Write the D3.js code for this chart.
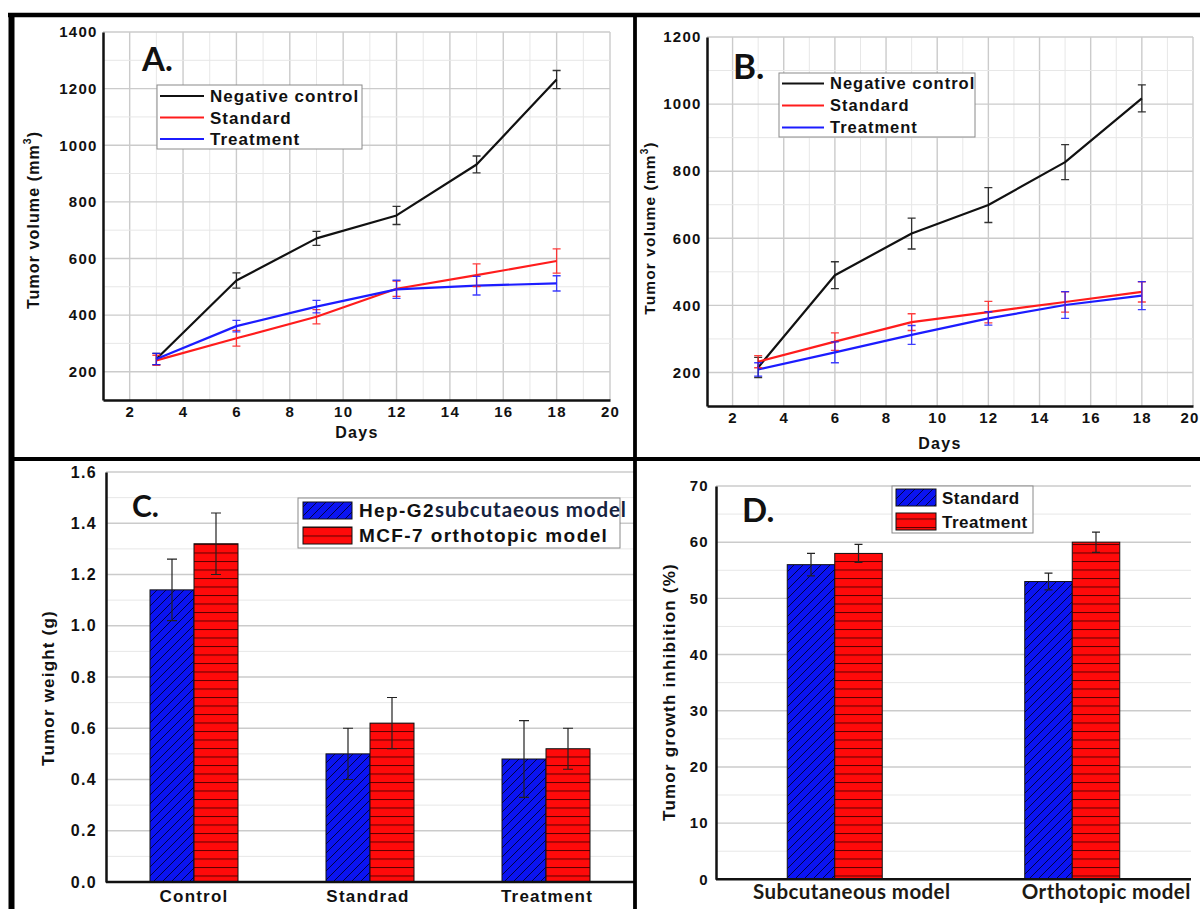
<!DOCTYPE html>
<html><head><meta charset="utf-8">
<script src="https://cdn.jsdelivr.net/npm/d3@7/dist/d3.min.js"></script>
<style>
body{margin:0;background:#fff}
svg{display:block}
</style>
</head><body>
<svg id="chart" width="1200" height="909" font-family="Liberation Sans, Arial, sans-serif" font-weight="bold" fill="#111"></svg>
<script>
// ---------------- DATA ----------------
const days = [3, 6, 9, 12, 15, 18];
const seriesNames = ["Negative control", "Standard", "Treatment"];

const aNegative     = [245, 522, 671, 752, 932, 1232];
const aNegativeErr  = [20, 27, 25, 32, 30, 32];
const aStandard     = [240, 318, 394, 493, 541, 591];
const aStandardErr  = [18, 28, 25, 27, 40, 43];
const aTreatment    = [245, 361, 430, 491, 504, 512];
const aTreatmentErr = [20, 20, 22, 32, 33, 27];

const bNegative     = [215, 490, 614, 699, 827, 1017];
const bNegativeErr  = [30, 40, 46, 52, 52, 40];
const bStandard     = [232, 292, 350, 380, 410, 440];
const bStandardErr  = [18, 26, 25, 32, 30, 30];
const bTreatment    = [209, 260, 312, 361, 401, 429];
const bTreatmentErr = [20, 31, 28, 20, 40, 42];

const lineXTicks = [2, 4, 6, 8, 10, 12, 14, 16, 18, 20];
const aYTicks = [200, 400, 600, 800, 1000, 1200, 1400];
const bYTicks = [200, 400, 600, 800, 1000, 1200];

const cCategories = ["Control", "Standrad", "Treatment"];
const cLegend = ["Hep-G2", "subcutaeous model", "MCF-7 orthotopic model"];
const cHepG2     = [1.14, 0.50, 0.48];
const cHepG2Err  = [0.12, 0.10, 0.15];
const cMCF7      = [1.32, 0.62, 0.52];
const cMCF7Err   = [0.12, 0.10, 0.08];
const cYTicks = [0, 0.2, 0.4, 0.6, 0.8, 1.0, 1.2, 1.4, 1.6];

const dCategories = ["Subcutaneous model", "Orthotopic model"];
const dLegend = ["Standard", "Treatment"];
const dStandard     = [56, 53];
const dStandardErr  = [2, 1.5];
const dTreatment    = [58, 60];
const dTreatmentErr = [1.6, 1.8];
const dYTicks = [0, 10, 20, 30, 40, 50, 60, 70];

// ---------------- STYLE ----------------
const LINE_COLORS = ["#111111", "#ff1c1c", "#1c1cff"];
const BLUE = "#0b14f2", RED = "#ff0a0a";
const GRID_MAJOR = "#cbcbcb", GRID_MINOR = "#e7e7e7";

const svg = d3.select("#chart");
svg.append("rect").attr("width", 1200).attr("height", 909).attr("fill", "#fff");

const defs = svg.append("defs");
const pb = defs.append("pattern").attr("id", "hatchBlue").attr("patternUnits", "userSpaceOnUse")
  .attr("width", 9).attr("height", 9);
pb.append("rect").attr("width", 9).attr("height", 9).attr("fill", BLUE);
pb.append("path").attr("d", "M-1,1 L1,-1 M0,9 L9,0 M8,10 L10,8")
  .attr("stroke", "#000030").attr("stroke-width", 0.9);
const pr = defs.append("pattern").attr("id", "hatchRed").attr("patternUnits", "userSpaceOnUse")
  .attr("width", 10).attr("height", 8.5);
pr.append("rect").attr("width", 10).attr("height", 8.5).attr("fill", RED);
pr.append("line").attr("x1", 0).attr("x2", 10).attr("y1", 0.5).attr("y2", 0.5)
  .attr("stroke", "#5a0000").attr("stroke-width", 1);

function styleAxis(g, fs, ls) {
  g.attr("font-family", null).attr("font-size", null);
  g.select(".domain").attr("stroke", "#111").attr("stroke-width", 2.5);
  g.selectAll(".tick line").remove();
  g.selectAll(".tick text").attr("font-size", fs).attr("letter-spacing", ls)
    .attr("fill", "#111").attr("font-family", "Liberation Sans, Arial, sans-serif").attr("font-weight", "bold");
}

// ---------------- LINE PANELS ----------------
function linePanel(cfg, vals, errs, yTicks) {
  const x = d3.scaleLinear().domain([1, 20]).range([cfg.x0, cfg.x1]);
  const y = d3.scaleLinear().domain([100, cfg.yMax]).range([cfg.y0, cfg.y1]);
  const g = svg.append("g");
  d3.range(2, 21).forEach(v => {
    g.append("line").attr("x1", x(v)).attr("x2", x(v)).attr("y1", y(100)).attr("y2", y(cfg.yMax))
      .attr("stroke", v % 2 === 0 ? GRID_MAJOR : GRID_MINOR).attr("stroke-width", v % 2 === 0 ? 1.4 : 1);
  });
  d3.range(200, cfg.yMax + 1, 100).forEach(v => {
    g.append("line").attr("x1", x(1)).attr("x2", x(20)).attr("y1", y(v)).attr("y2", y(v))
      .attr("stroke", v % 200 === 0 ? GRID_MAJOR : GRID_MINOR).attr("stroke-width", v % 200 === 0 ? 1.4 : 1);
  });
  const ya = g.append("g").attr("transform", `translate(${cfg.x0},0)`)
    .call(d3.axisLeft(y).tickValues(yTicks).tickSize(0).tickSizeOuter(0).tickPadding(5.5).tickFormat(d3.format("d")));
  styleAxis(ya, 15, 1.2);
  const xa = g.append("g").attr("transform", `translate(0,${cfg.y0})`)
    .call(d3.axisBottom(x).tickValues(lineXTicks).tickSize(0).tickSizeOuter(0).tickPadding(6.5).tickFormat(d3.format("d")));
  styleAxis(xa, 15, 1.2);
  // keep the last tick label inside the page when the axis ends at the page edge
  xa.selectAll(".tick text").filter(d => x(d) + 12 > 1200).attr("text-anchor", "end").attr("x", 1199 - x(20));
  const line = d3.line().x((d, i) => x(days[i])).y(d => y(d));
  vals.forEach((s, k) => {
    g.append("path").attr("d", line(s)).attr("fill", "none")
      .attr("stroke", LINE_COLORS[k]).attr("stroke-width", 2.2).attr("stroke-linejoin", "round");
  });
  vals.forEach((s, k) => {
    s.forEach((v, i) => {
      const cx = x(days[i]), e = errs[k][i];
      const p = `M${cx},${y(v - e)}V${y(v + e)}M${cx - 4},${y(v - e)}H${cx + 4}M${cx - 4},${y(v + e)}H${cx + 4}`;
      g.append("path").attr("d", p).attr("stroke", LINE_COLORS[k]).attr("stroke-width", 1.3)
        .attr("fill", "none").attr("opacity", 0.85);
    });
  });
  const L = cfg.legend;
  g.append("rect").attr("x", L.x).attr("y", L.y).attr("width", L.w).attr("height", L.h)
    .attr("fill", "#fff").attr("stroke", "#8a8a8a").attr("stroke-width", 1);
  seriesNames.forEach((n, k) => {
    const ry = L.rows[k];
    g.append("line").attr("x1", L.lx0).attr("x2", L.lx1).attr("y1", ry).attr("y2", ry)
      .attr("stroke", LINE_COLORS[k]).attr("stroke-width", 2.2);
    g.append("text").attr("x", L.tx).attr("y", ry).attr("dy", "0.36em")
      .attr("font-size", L.fs).attr("letter-spacing", 1).text(n);
  });
  g.append("text").attr("x", cfg.lab.x).attr("y", cfg.lab.y).attr("font-family", "Lato, sans-serif")
    .attr("font-weight", "bold").attr("font-size", cfg.lab.fs).text(cfg.lab.t);
  g.append("text").attr("x", cfg.days.x).attr("y", cfg.days.y).attr("text-anchor", "middle")
    .attr("font-size", 16).attr("letter-spacing", 1.3).text("Days");
  const yt = g.append("text").attr("transform", `translate(${cfg.yt.x},${cfg.yt.y}) rotate(-90)`)
    .attr("text-anchor", "middle").attr("dy", "0.35em").attr("font-size", cfg.yt.fs).attr("letter-spacing", 1.1);
  yt.append("tspan").text("Tumor volume (mm");
  yt.append("tspan").attr("font-size", cfg.yt.fs * 0.65).attr("dy", "-0.7em").text("3");
  yt.append("tspan").attr("dy", "0.45em").text(")");
}

linePanel({
  x0: 103, x1: 610, y0: 400, y1: 32, yMax: 1400,
  legend: {x: 157, y: 85, w: 205, h: 64, rows: [96, 117.5, 139], lx0: 160, lx1: 204, tx: 210, fs: 17},
  lab: {x: 142, y: 71, fs: 33, t: "A."},
  days: {x: 357, y: 438},
  yt: {x: 33, y: 220, fs: 16}
}, [aNegative, aStandard, aTreatment], [aNegativeErr, aStandardErr, aTreatmentErr], aYTicks);

linePanel({
  x0: 707, x1: 1193, y0: 406, y1: 37, yMax: 1200,
  legend: {x: 779, y: 73, w: 196, h: 64, rows: [83.5, 105.5, 127.5], lx0: 782, lx1: 824, tx: 830, fs: 16.5},
  lab: {x: 733, y: 79, fs: 35, t: "B."},
  days: {x: 940, y: 449},
  yt: {x: 650, y: 228, fs: 15.5}
}, [bNegative, bStandard, bTreatment], [bNegativeErr, bStandardErr, bTreatmentErr], bYTicks);

// ---------------- BAR PANELS ----------------
function barPanel(cfg, cats, s1, e1, s2, e2, yTicks) {
  const x = d3.scaleBand().domain(cats).range([cfg.x0, cfg.x1]).paddingInner(0).paddingOuter(0);
  const y = d3.scaleLinear().domain([0, cfg.yMax]).range([cfg.y0, cfg.y1]);
  const g = svg.append("g");
  d3.range(1, cfg.nMinor + 1).forEach(i => {
    const v = i * cfg.minorStep;
    g.append("line").attr("x1", cfg.x0).attr("x2", cfg.x1).attr("y1", y(v)).attr("y2", y(v))
      .attr("stroke", i % 2 === 0 ? GRID_MAJOR : GRID_MINOR).attr("stroke-width", i % 2 === 0 ? 1.4 : 1);
  });
  const bw = x.step() * cfg.barFrac;
  cats.forEach((c, i) => {
    const cx = x(c) + x.bandwidth() / 2;
    [[s1, "url(#hatchBlue)", cx - bw], [s2, "url(#hatchRed)", cx]].forEach(([s, fill, bx]) => {
      g.append("rect").attr("x", bx).attr("y", y(s[i])).attr("width", bw).attr("height", y(0) - y(s[i]))
        .attr("fill", fill).attr("stroke", "#111").attr("stroke-width", 1);
    });
  });
  cats.forEach((c, i) => {
    const cx = x(c) + x.bandwidth() / 2;
    [[s1, e1, cx - bw / 2], [s2, e2, cx + bw / 2]].forEach(([s, e, ex]) => {
      const lo = y(s[i] - e[i]), hi = y(s[i] + e[i]), cw = cfg.cap;
      g.append("path").attr("d", `M${ex},${lo}V${hi}M${ex - cw},${lo}H${ex + cw}M${ex - cw},${hi}H${ex + cw}`)
        .attr("stroke", "#222").attr("stroke-width", 1.2).attr("fill", "none");
    });
  });
  const ya = g.append("g").attr("transform", `translate(${cfg.x0},0)`)
    .call(d3.axisLeft(y).tickValues(yTicks).tickSize(0).tickSizeOuter(0).tickPadding(cfg.tp).tickFormat(d3.format(cfg.fmt)));
  styleAxis(ya, cfg.tfs, 1.3);
  g.append("line").attr("x1", cfg.x0).attr("x2", cfg.x1).attr("y1", y(0)).attr("y2", y(0))
    .attr("stroke", "#111").attr("stroke-width", 2.5);
  cats.forEach((c, i) => {
    g.append("text").attr("x", x(c) + x.bandwidth() / 2 + cfg.catDx[i]).attr("y", cfg.catY)
      .attr("text-anchor", "middle").attr("font-size", cfg.cfs).attr("fill", cfg.catFill)
      .attr("font-family", cfg.catFont).attr("letter-spacing", cfg.catLs).text(c);
  });
  const L = cfg.legend;
  g.append("rect").attr("x", L.x).attr("y", L.y).attr("width", L.w).attr("height", L.h)
    .attr("fill", "#fff").attr("stroke", "#8a8a8a").attr("stroke-width", 1);
  ["url(#hatchBlue)", "url(#hatchRed)"].forEach((f, k) => {
    g.append("rect").attr("x", L.sx).attr("y", L.sy[k]).attr("width", L.sw).attr("height", L.sh)
      .attr("fill", f).attr("stroke", "#111").attr("stroke-width", 1);
  });
  L.texts.forEach((t, k) => {
    const tx = g.append("text").attr("x", L.tx).attr("y", L.sy[k] + L.sh / 2).attr("dy", "0.36em")
      .attr("font-size", L.fs).attr("letter-spacing", L.ls);
    t.forEach(part => {
      const ts = tx.append("tspan").text(part.s);
      if (part.alt) ts.attr("font-family", "Lato, sans-serif").attr("font-size", L.fs + 1.5)
        .attr("fill", "#16233f").attr("letter-spacing", 0.9);
    });
  });
  g.append("text").attr("x", cfg.lab.x).attr("y", cfg.lab.y).attr("font-family", "Lato, sans-serif")
    .attr("font-weight", "bold").attr("font-size", cfg.lab.fs).text(cfg.lab.t);
  g.append("text").attr("transform", `translate(${cfg.yt.x},${cfg.yt.y}) rotate(-90)`)
    .attr("text-anchor", "middle").attr("dy", "0.35em").attr("font-size", cfg.yt.fs)
    .attr("letter-spacing", 1.2).text(cfg.yt.t);
}

barPanel({
  x0: 106, x1: 634, y0: 882, y1: 472, yMax: 1.6, nMinor: 16, minorStep: 0.1, barFrac: 0.25, cap: 5,
  tp: 9, fmt: ".1f", tfs: 16, catY: 902, cfs: 17, catFont: "Liberation Sans, Arial, sans-serif", catFill: "#111", catLs: 1.2, catDx: [0, -2, 1],
  legend: {x: 298, y: 498, w: 322, h: 50, sx: 303, sy: [502, 527], sw: 49, sh: 17, tx: 359, fs: 19, ls: 1.4,
    texts: [[{s: cLegend[0]}, {s: cLegend[1], alt: true}], [{s: cLegend[2]}]]},
  lab: {x: 132, y: 517, fs: 30, t: "C."},
  yt: {x: 48, y: 688, fs: 17, t: "Tumor weight (g)"}
}, cCategories, cHepG2, cHepG2Err, cMCF7, cMCF7Err, cYTicks);

barPanel({
  x0: 716, x1: 1191, y0: 879.3, y1: 486, yMax: 70, nMinor: 14, minorStep: 5, barFrac: 0.2, cap: 4,
  tp: 7, fmt: "d", tfs: 15, catY: 899, cfs: 20.5, catFont: "Lato, sans-serif", catFill: "#1d1a14", catLs: 0.4, catDx: [17, 34],
  legend: {x: 892, y: 486, w: 141, h: 47, sx: 896, sy: [489, 513], sw: 40, sh: 17, tx: 942, fs: 17, ls: 0.5,
    texts: [[{s: dLegend[0]}], [{s: dLegend[1]}]]},
  lab: {x: 742, y: 522, fs: 33, t: "D."},
  yt: {x: 669, y: 692, fs: 17, t: "Tumor growth inhibition (%)"}
}, dCategories, dStandard, dStandardErr, dTreatment, dTreatmentErr, dYTicks);

// ---------------- PANEL FRAMES ----------------
const frame = svg.append("g").attr("stroke", "#000").attr("fill", "none");
frame.append("line").attr("x1", 8).attr("x2", 1200).attr("y1", 15).attr("y2", 15).attr("stroke-width", 4.5);
frame.append("line").attr("x1", 11.5).attr("x2", 11.5).attr("y1", 13).attr("y2", 909).attr("stroke-width", 6);
frame.append("line").attr("x1", 635).attr("x2", 635).attr("y1", 13).attr("y2", 909).attr("stroke-width", 3.8);
frame.append("line").attr("x1", 9).attr("x2", 1200).attr("y1", 459).attr("y2", 459).attr("stroke-width", 4);
</script>
</body></html>
